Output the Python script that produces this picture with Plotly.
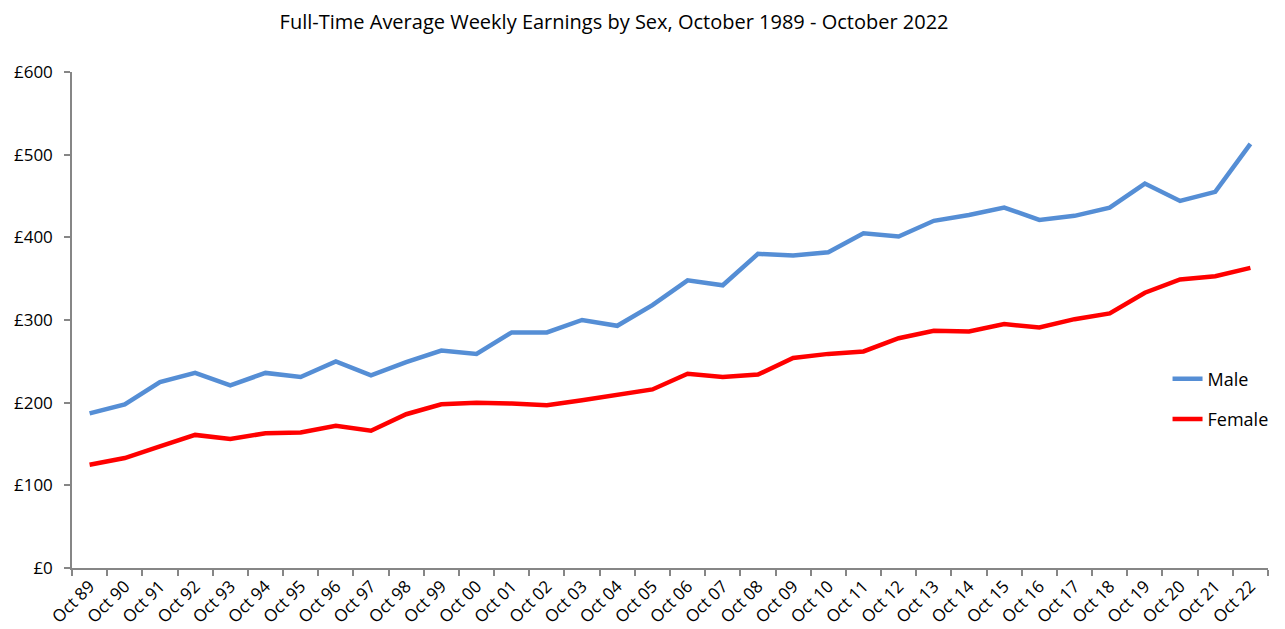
import plotly.graph_objects as go

years = ["89", "90", "91", "92", "93", "94", "95", "96", "97", "98", "99",
         "00", "01", "02", "03", "04", "05", "06", "07", "08", "09", "10",
         "11", "12", "13", "14", "15", "16", "17", "18", "19", "20", "21", "22"]
labels = [f"Oct {y}" for y in years]

male = [187, 198, 225, 236, 221, 236, 231, 250, 233, 249, 263,
        259, 285, 285, 300, 293, 318, 348, 342, 380, 378, 382,
        405, 401, 420, 427, 436, 421, 426, 436, 465, 444, 455, 513]
female = [125, 133, 147, 161, 156, 163, 164, 172, 166, 186, 198,
          200, 199, 197, 203, 210, 216, 235, 231, 234, 254, 259,
          262, 278, 287, 286, 295, 291, 301, 308, 333, 349, 353, 363]

FONT = "Open Sans"
AXIS_GREY = "#868686"

fig = go.Figure()
fig.add_trace(go.Scatter(x=labels, y=male, name="Male", mode="lines",
                         line=dict(color="#558ED5", width=4.5), legend="legend"))
fig.add_trace(go.Scatter(x=labels, y=female, name="Female", mode="lines",
                         line=dict(color="#FF0000", width=4.5), legend="legend2"))

legend_style = dict(font=dict(family=FONT, size=18, color="black"),
                    bgcolor="rgba(0,0,0,0)", xanchor="left", yanchor="middle",
                    itemwidth=30, borderwidth=0)

# the page adds an 8px body margin, so the figure is 8px smaller than the window
fig.update_layout(
    width=1277, height=621,
    showlegend=True,
    paper_bgcolor="white", plot_bgcolor="white",
    margin=dict(l=64, r=17, t=64, b=61, autoexpand=False),
    title=dict(text="Full-Time Average Weekly Earnings by Sex, October 1989 - October 2022",
               x=0.4746, xanchor="center", y=0.977, yanchor="middle",
               font=dict(family=FONT, size=20, color="black")),
    font=dict(family=FONT, color="black"),
    legend=dict(x=0.916, y=0.381, **legend_style),
    legend2=dict(x=0.916, y=0.300, **legend_style),
    xaxis=dict(type="category", range=[-0.5, len(labels) - 0.5], automargin=False,
               showline=True, linecolor=AXIS_GREY, linewidth=1.5,
               ticks="outside", tickson="boundaries", ticklen=6,
               tickcolor=AXIS_GREY, tickwidth=1.5,
               tickangle=-45, tickfont=dict(family=FONT, size=17, color="black"),
               showgrid=False, zeroline=False),
    yaxis=dict(range=[0, 600], dtick=100, tickprefix="£", automargin=False,
               showline=True, linecolor=AXIS_GREY, linewidth=1.5,
               ticks="outside", ticklen=6, tickcolor=AXIS_GREY, tickwidth=1.5,
               ticklabelstandoff=8,
               tickfont=dict(family=FONT, size=17, color="black"),
               showgrid=False, zeroline=False),
)

fig.write_html("out.html")
